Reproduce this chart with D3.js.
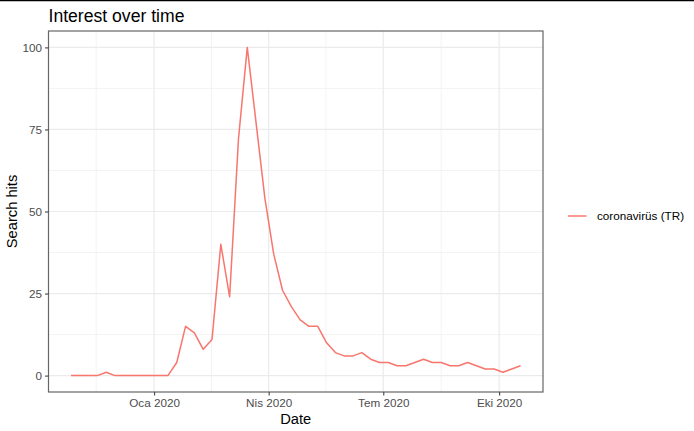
<!DOCTYPE html>
<html>
<head>
<meta charset="utf-8">
<script src="https://cdn.jsdelivr.net/npm/d3@7"></script>
<style>
  body { margin: 0; background: #fff; }
  text { font-family: "Liberation Sans", Arial, sans-serif; }
</style>
</head>
<body>
<div id="chart"></div>
<script>
// weekly Google Trends hits
var weeks = [
    "2019-10-27", "2019-11-03", "2019-11-10", "2019-11-17", "2019-11-24",
    "2019-12-01", "2019-12-08", "2019-12-15", "2019-12-22", "2019-12-29",
    "2020-01-05", "2020-01-12", "2020-01-19", "2020-01-26",
    "2020-02-02", "2020-02-09", "2020-02-16", "2020-02-23",
    "2020-03-01", "2020-03-08", "2020-03-15", "2020-03-22", "2020-03-29",
    "2020-04-05", "2020-04-12", "2020-04-19", "2020-04-26",
    "2020-05-03", "2020-05-10", "2020-05-17", "2020-05-24", "2020-05-31",
    "2020-06-07", "2020-06-14", "2020-06-21", "2020-06-28",
    "2020-07-05", "2020-07-12", "2020-07-19", "2020-07-26",
    "2020-08-02", "2020-08-09", "2020-08-16", "2020-08-23", "2020-08-30",
    "2020-09-06", "2020-09-13", "2020-09-20", "2020-09-27",
    "2020-10-04", "2020-10-11", "2020-10-18"
];
var hits = [
    0, 0, 0, 0, 1, 0, 0, 0, 0, 0,
    0, 0, 4, 15,
    13, 8, 11, 40,
    24, 72, 100, 77, 54,
    37, 26, 21, 17,
    15, 15, 10, 7, 6,
    6, 7, 5, 4,
    4, 3, 3, 4,
    5, 4, 4, 3, 3,
    4, 3, 2, 2,
    1, 2, 3
];
var seriesName = "coronavirüs (TR)";
var xTicks = ["2020-01-01", "2020-04-01", "2020-07-01", "2020-10-01"];
var xTickLabels = ["Oca 2020", "Nis 2020", "Tem 2020", "Eki 2020"];
var xMinor = ["2019-10-01", "2020-01-01", "2020-04-01", "2020-07-01", "2020-10-01", "2021-01-01"];
var yTicks = [0, 25, 50, 75, 100];

var width = 694, height = 431;
var panel = {left: 48.5, right: 543, top: 31, bottom: 392};
var lineColor = "#F8766D";

var parse = d3.timeParse("%Y-%m-%d");
var data = weeks.map(function (w, i) {
    return {date: parse(w), value: hits[i]};
});

var svg = d3.select("#chart").append("svg")
    .attr("width", width)
    .attr("height", height);

// thin black rule along the top edge
svg.append("line")
    .attr("x1", 0).attr("x2", width)
    .attr("y1", 0.5).attr("y2", 0.5)
    .attr("stroke", "#000").attr("stroke-width", 1.5);

// scales with ggplot-style 5% expansion
var ext = d3.extent(data, d => d.date);
var span = ext[1] - ext[0];
var x = d3.scaleTime()
    .domain([new Date(+ext[0] - span * 0.05), new Date(+ext[1] + span * 0.05)])
    .range([panel.left, panel.right]);
var yMax = d3.max(hits);
var y = d3.scaleLinear()
    .domain([-yMax * 0.05, yMax * 1.05])
    .range([panel.bottom, panel.top]);

// minor grid
var grid = svg.append("g");
var minorX = [];
for (var i = 0; i < xMinor.length - 1; i++) {
    var a = +parse(xMinor[i]), b = +parse(xMinor[i + 1]);
    var m = new Date((a + b) / 2);
    if (x(m) > panel.left && x(m) < panel.right) minorX.push(m);
}
grid.selectAll(".minx").data(minorX).enter().append("line")
    .attr("x1", d => x(d)).attr("x2", d => x(d))
    .attr("y1", panel.top).attr("y2", panel.bottom)
    .attr("stroke", "#F0F0F0").attr("stroke-width", 0.8);
var minorY = d3.range(0, yTicks.length - 1).map(i => (yTicks[i] + yTicks[i + 1]) / 2);
grid.selectAll(".miny").data(minorY).enter().append("line")
    .attr("x1", panel.left).attr("x2", panel.right)
    .attr("y1", d => y(d)).attr("y2", d => y(d))
    .attr("stroke", "#F0F0F0").attr("stroke-width", 0.8);

// major grid
grid.selectAll(".majx").data(xTicks).enter().append("line")
    .attr("x1", d => x(parse(d))).attr("x2", d => x(parse(d)))
    .attr("y1", panel.top).attr("y2", panel.bottom)
    .attr("stroke", "#EBEBEB").attr("stroke-width", 1.2);
grid.selectAll(".majy").data(yTicks).enter().append("line")
    .attr("x1", panel.left).attr("x2", panel.right)
    .attr("y1", d => y(d)).attr("y2", d => y(d))
    .attr("stroke", "#EBEBEB").attr("stroke-width", 1.2);

// series line
svg.append("path")
    .datum(data)
    .attr("fill", "none")
    .attr("stroke", lineColor)
    .attr("stroke-width", 1.5)
    .attr("stroke-linejoin", "round")
    .attr("d", d3.line().x(d => x(d.date)).y(d => y(d.value)));

// panel border
svg.append("rect")
    .attr("x", panel.left).attr("y", panel.top)
    .attr("width", panel.right - panel.left)
    .attr("height", panel.bottom - panel.top)
    .attr("fill", "none")
    .attr("stroke", "#666666").attr("stroke-width", 1.2);

// axes
var xAxis = d3.axisBottom(x)
    .tickValues(xTicks.map(parse))
    .tickFormat((d, i) => xTickLabels[i])
    .tickSize(3.5).tickPadding(3);
var gx = svg.append("g")
    .attr("transform", "translate(0," + panel.bottom + ")")
    .call(xAxis);
var yAxis = d3.axisLeft(y)
    .tickValues(yTicks)
    .tickSize(3.5).tickPadding(3);
var gy = svg.append("g")
    .attr("transform", "translate(" + panel.left + ",0)")
    .call(yAxis);
[gx, gy].forEach(function (g) {
    g.select(".domain").remove();
    g.selectAll(".tick line").attr("stroke", "#444444").attr("stroke-width", 1.1);
    g.selectAll(".tick text")
        .attr("fill", "#4D4D4D")
        .style("font-size", "11.7px")
        .style("font-family", "'Liberation Sans', Arial, sans-serif");
});

// titles
svg.append("text")
    .attr("x", panel.left).attr("y", 22)
    .style("font-size", "17.6px")
    .attr("fill", "#000")
    .text("Interest over time");
svg.append("text")
    .attr("x", (panel.left + panel.right) / 2).attr("y", 424)
    .attr("text-anchor", "middle")
    .style("font-size", "14.7px")
    .text("Date");
svg.append("text")
    .attr("transform", "translate(17," + ((panel.top + panel.bottom) / 2) + ") rotate(-90)")
    .attr("text-anchor", "middle")
    .style("font-size", "14.7px")
    .text("Search hits");

// legend
var legend = svg.append("g").attr("transform", "translate(568,216)");
legend.append("line")
    .attr("x1", 0).attr("x2", 18.5)
    .attr("y1", 0).attr("y2", 0)
    .attr("stroke", lineColor).attr("stroke-width", 1.5);
legend.append("text")
    .attr("x", 29).attr("y", 0)
    .attr("dy", "0.35em")
    .style("font-size", "11.7px")
    .text(seriesName);
</script>
</body>
</html>
